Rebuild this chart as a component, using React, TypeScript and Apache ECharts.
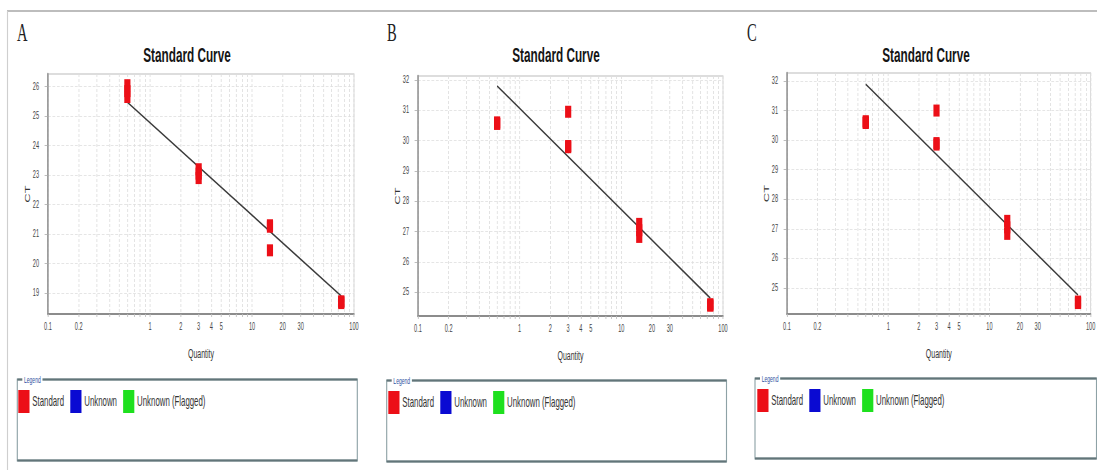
import React, { useEffect, useRef } from "react";
import * as echarts from "echarts";

// ---------- data ----------
const quantityTickValues = [
  0.1, 0.2, 0.3, 0.4, 0.5, 0.6, 0.7, 0.8, 0.9,
  1, 2, 3, 4, 5, 6, 7, 8, 9,
  10, 20, 30, 40, 50, 60, 70, 80, 90, 100,
];
const quantityLabelValues = [0.1, 0.2, 1, 2, 3, 4, 5, 10, 20, 30, 100];
const ctTicksA = [19, 20, 21, 22, 23, 24, 25, 26];
const ctTicksB = [25, 26, 27, 28, 29, 30, 31, 32];
const ctTicksC = [25, 26, 27, 28, 29, 30, 31, 32];
const ctRangeA = [18.29, 26.43];
const ctRangeB = [24.21, 32.13];
const ctRangeC = [24.12, 32.27];

const legendNames = ["Standard", "Unknown", "Unknown (Flagged)"];
const panelLetters = ["A", "B", "C"];
const chartTitle = "Standard Curve";
const xAxisTitle = "Quantity";
const yAxisTitle = "CT";
const legendCaption = "Legend";

const standardQuantityA = [0.6, 0.6, 0.6, 3, 3, 3, 15, 15, 15, 75, 75, 75];
const standardCtA = [26.05, 25.85, 25.65, 23.2, 23.05, 22.9, 21.3, 21.25, 20.45, 18.72, 18.7, 18.66];
const fitQuantityA = [0.6, 75];
const fitCtA = [25.47, 18.9];

const standardQuantityB = [0.6, 0.6, 0.6, 3, 3, 3, 15, 15, 15, 75, 75, 75];
const standardCtB = [30.6, 30.56, 30.55, 30.95, 29.82, 29.78, 27.25, 27.04, 26.82, 24.6, 24.57, 24.55];
const fitQuantityB = [0.6, 75];
const fitCtB = [31.8, 24.8];

const standardQuantityC = [0.6, 0.6, 0.6, 3, 3, 3, 15, 15, 15, 75, 75, 75];
const standardCtC = [30.64, 30.6, 30.58, 31.0, 29.9, 29.85, 27.27, 27.05, 26.83, 24.54, 24.51, 24.49];
const fitQuantityC = [0.6, 75];
const fitCtC = [31.89, 24.76];

// ---------- layout ----------
const S = 0.56; // horizontal squeeze of the whole picture
const W = 1097;
const H = 470;
const UW = W / S;
const sx = (x: number) => x / S;

const SANS = "'Liberation Sans', Arial, sans-serif";
const SERIF = "'Liberation Serif', 'Times New Roman', serif";
const RED = "#ec0f17";
const BLUE = "#0a0ad2";
const GREEN = "#1ee01e";

const zip = (a: number[], b: number[]) => a.map((v, i) => [v, b[i]]);

const panels = [
  {
    grid: { left: sx(48), top: 74, width: sx(354) - sx(48), height: 240 },
    range: ctRangeA, ticks: ctTicksA,
    std: zip(standardQuantityA, standardCtA), fit: zip(fitQuantityA, fitCtA),
    letterX: sx(17), titleX: sx(187),
    box: { x: sx(17.3), y: 379.5, w: sx(357.3) - sx(17.3), h: 81 },
    legendLeft: sx(18.3), legendTop: 390,
  },
  {
    grid: { left: sx(418), top: 76, width: sx(723) - sx(418), height: 240 },
    range: ctRangeB, ticks: ctTicksB,
    std: zip(standardQuantityB, standardCtB), fit: zip(fitQuantityB, fitCtB),
    letterX: sx(387), titleX: sx(556),
    box: { x: sx(386.7), y: 380.5, w: sx(726.5) - sx(386.7), h: 81 },
    legendLeft: sx(388.3), legendTop: 391,
  },
  {
    grid: { left: sx(787), top: 73, width: sx(1093) - sx(787), height: 241 },
    range: ctRangeC, ticks: ctTicksC,
    std: zip(standardQuantityC, standardCtC), fit: zip(fitQuantityC, fitCtC),
    letterX: sx(747), titleX: sx(926),
    box: { x: sx(755), y: 378.5, w: sx(1096.5) - sx(755), h: 80 },
    legendLeft: sx(757.3), legendTop: 389,
  },
];

function buildOption(): any {
  const grid: any[] = [];
  const xAxis: any[] = [];
  const yAxis: any[] = [];
  const series: any[] = [];
  const legend: any[] = [];
  const graphic: any[] = [];

  // outer frame
  graphic.push({
    type: "line",
    shape: { x1: sx(7), y1: 11, x2: UW, y2: 11 },
    style: { stroke: "#bdbdbd", lineWidth: 2 },
    silent: true,
  });
  graphic.push({
    type: "line",
    shape: { x1: sx(7.5), y1: 11, x2: sx(7.5), y2: H },
    style: { stroke: "#cfcfcf", lineWidth: 2 },
    silent: true,
  });

  panels.forEach((p, i) => {
    grid.push({
      ...p.grid,
      show: true,
      borderColor: "#d2d2d2",
      borderWidth: 1.5,
      backgroundColor: "#fff",
    });
    xAxis.push({
      type: "log",
      logBase: 10,
      gridIndex: i,
      min: 0.1,
      max: 100,
      name: xAxisTitle,
      nameLocation: "middle",
      nameGap: 33,
      nameTextStyle: { fontSize: 12.5, color: "#333", fontFamily: SANS },
      axisLine: { show: true, onZero: false, lineStyle: { color: "#8c8c8c", width: 2 } },
      axisTick: { show: true, customValues: quantityTickValues, length: 3, lineStyle: { color: "#bdbdbd", width: 1.5 } },
      axisLabel: {
        customValues: quantityLabelValues,
        fontSize: 10,
        color: "#444",
        fontFamily: SANS,
        margin: 8,
        formatter: (v: number) => String(Number(Number(v).toPrecision(6))),
      },
      splitLine: { show: true, lineStyle: { color: "#dedede", width: 1.5, type: [3, 2] } },
      minorSplitLine: { show: false },
    });
    yAxis.push({
      type: "value",
      gridIndex: i,
      min: p.range[0],
      max: p.range[1],
      name: yAxisTitle,
      nameLocation: "middle",
      nameRotate: 90,
      nameGap: 28,
      nameTextStyle: { fontSize: 13, color: "#333", fontFamily: SANS },
      axisLine: { show: true, lineStyle: { color: "#8c8c8c", width: 2.5 } },
      axisTick: { show: true, customValues: p.ticks, length: 6, lineStyle: { color: "#aaa" } },
      axisLabel: { customValues: p.ticks, fontSize: 10, color: "#444", fontFamily: SANS, margin: 16 },
      splitLine: { show: true, lineStyle: { color: "#dedede", width: 1, type: [5, 3] } },
    });
    series.push({
      type: "line",
      name: "fit" + i,
      xAxisIndex: i,
      yAxisIndex: i,
      data: p.fit,
      symbol: "none",
      lineStyle: { color: "#3a3a3a", width: 1.8 },
      z: 2,
      silent: true,
    });
    series.push({
      type: "scatter",
      name: legendNames[0],
      xAxisIndex: i,
      yAxisIndex: i,
      data: p.std,
      symbol: "rect",
      symbolSize: [11, 12],
      itemStyle: { color: RED, opacity: 1 },
      z: 3,
    });
    legend.push({
      left: p.legendLeft,
      top: p.legendTop,
      padding: 0,
      orient: "horizontal",
      icon: "rect",
      itemWidth: 20,
      itemHeight: 23,
      itemGap: 11,
      selectedMode: false,
      data: legendNames,
      textStyle: { fontSize: 14, color: "#333", fontFamily: SANS },
    });

    // legend group box
    const b = p.box;
    graphic.push({
      type: "rect",
      shape: { x: b.x, y: b.y, width: b.w, height: b.h },
      style: { fill: "none", stroke: "#8ea2a6", lineWidth: 2 },
      silent: true,
    });
    graphic.push({
      type: "line",
      shape: { x1: b.x, y1: b.y, x2: b.x + b.w, y2: b.y },
      style: { stroke: "#627579", lineWidth: 2 },
      silent: true,
    });
    graphic.push({
      type: "line",
      shape: { x1: b.x, y1: b.y + b.h, x2: b.x + b.w, y2: b.y + b.h },
      style: { stroke: "#627579", lineWidth: 2 },
      silent: true,
    });
    graphic.push({
      type: "text",
      x: b.x + sx(5),
      y: b.y,
      style: {
        text: legendCaption,
        font: `9px ${SANS}`,
        fill: "#2d4f9e",
        verticalAlign: "middle",
        align: "left",
        backgroundColor: "#fff",
        padding: [0, 3],
      },
      silent: true,
    });

    // panel letter
    graphic.push({
      type: "text",
      x: p.letterX,
      y: 32,
      style: { text: panelLetters[i], font: `26px ${SERIF}`, fill: "#222", verticalAlign: "middle", align: "left" },
      silent: true,
    });
    // title
    graphic.push({
      type: "text",
      x: p.titleX,
      y: 55,
      style: { text: chartTitle, font: `bold 21px ${SANS}`, fill: "#151515", verticalAlign: "middle", align: "center" },
      silent: true,
    });
  });

  series.push({
    type: "scatter",
    name: legendNames[1],
    xAxisIndex: 0,
    yAxisIndex: 0,
    data: [],
    symbol: "rect",
    itemStyle: { color: BLUE, opacity: 1 },
  });
  series.push({
    type: "scatter",
    name: legendNames[2],
    xAxisIndex: 0,
    yAxisIndex: 0,
    data: [],
    symbol: "rect",
    itemStyle: { color: GREEN, opacity: 1 },
  });

  return {
    animation: false,
    backgroundColor: "#fff",
    grid,
    xAxis,
    yAxis,
    series,
    legend,
    graphic,
  };
}

export default function App() {
  const ref = useRef<HTMLDivElement>(null);
  useEffect(() => {
    if (!ref.current) return;
    const chart = echarts.init(ref.current, null, { renderer: "svg", width: UW, height: H });
    chart.setOption(buildOption());
    return () => chart.dispose();
  }, []);
  return (
    <div
      style={{
        position: "fixed",
        left: 0,
        top: 0,
        width: W,
        height: H,
        overflow: "hidden",
        background: "#fff",
      }}
    >
      <div
        ref={ref}
        style={{ width: UW, height: H, transform: `scaleX(${S})`, transformOrigin: "0 0" }}
      />
    </div>
  );
}
